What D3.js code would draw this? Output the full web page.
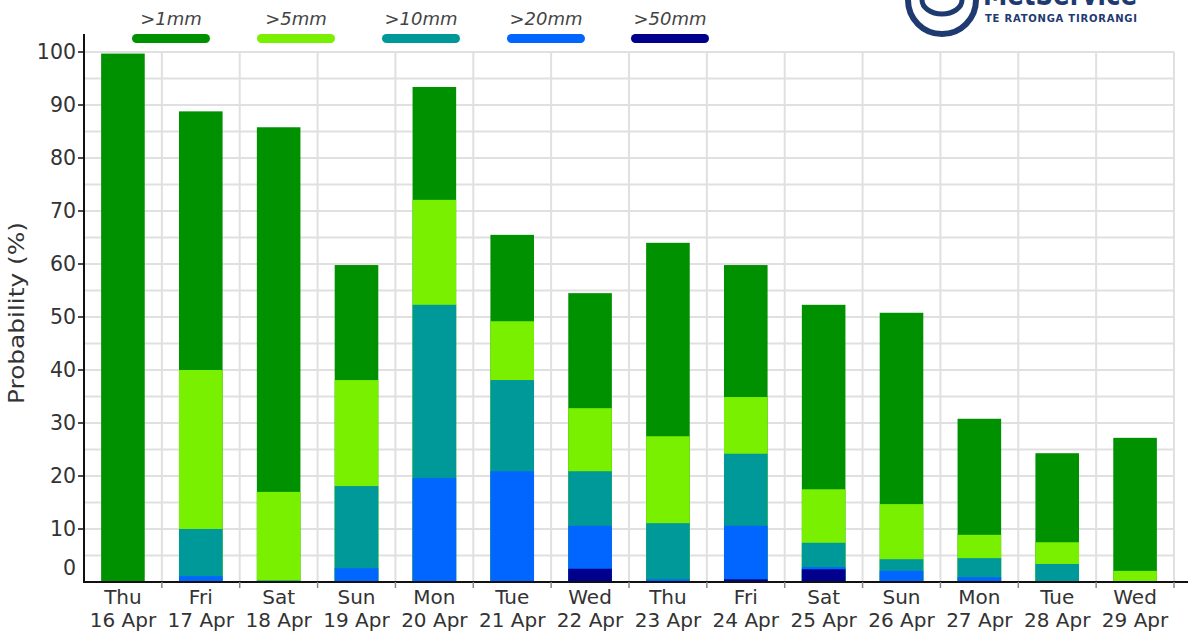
<!DOCTYPE html>
<html>
<head>
<meta charset="utf-8">
<script src="https://cdn.jsdelivr.net/npm/d3@7/dist/d3.min.js"></script>
<style>
html,body{margin:0;padding:0;background:#fff;}
svg{display:block;}
text{font-family:"DejaVu Sans",sans-serif;}
</style>
</head>
<body>
<svg id="chart" width="1188" height="635"></svg>
<script>
const days = ["Thu","Fri","Sat","Sun","Mon","Tue","Wed","Thu","Fri","Sat","Sun","Mon","Tue","Wed"];
const dates = ["16 Apr","17 Apr","18 Apr","19 Apr","20 Apr","21 Apr","22 Apr","23 Apr","24 Apr","25 Apr","26 Apr","27 Apr","28 Apr","29 Apr"];
const seriesNames = [">1mm", ">5mm", ">10mm", ">20mm", ">50mm"];
const p1mm  = [99.7, 88.8, 85.8, 59.8, 93.4, 65.5, 54.5, 64.0, 59.8, 52.3, 50.8, 30.8, 24.3, 27.2];
const p5mm  = [0, 40.0, 17.0, 38.1, 72.1, 49.2, 32.8, 27.5, 34.9, 17.5, 14.7, 8.9, 7.5, 2.1];
const p10mm = [0, 10.0, 0.3, 18.1, 52.3, 38.1, 20.9, 11.1, 24.2, 7.4, 4.3, 4.5, 3.4, 0];
const p20mm = [0, 1.1, 0, 2.6, 19.6, 20.9, 10.6, 0.5, 10.6, 2.8, 2.1, 0.9, 0, 0];
const p50mm = [0, 0, 0, 0, 0, 0, 2.5, 0, 0.5, 2.4, 0, 0, 0, 0];
const yTicks = [0, 10, 20, 30, 40, 50, 60, 70, 80, 90, 100];

const colors = ["#009100", "#78f000", "#009999", "#0066ff", "#00008c"];
const seriesValues = [p1mm, p5mm, p10mm, p20mm, p50mm];

const svg = d3.select("#chart");
const pLeft = 84, pRight = 1174, pTop = 52, pBottom = 582;

const x = d3.scaleBand().domain(d3.range(days.length)).range([pLeft, pRight]).paddingInner(0.44).paddingOuter(0.22);
const y = d3.scaleLinear().domain([0, 100]).range([pBottom, pTop]);
const step = x.step();

// horizontal gridlines every 5
const gridVals = d3.range(5, 101, 5);
svg.append("g").selectAll("line").data(gridVals).join("line")
  .attr("x1", pLeft).attr("x2", pRight)
  .attr("y1", d => y(d)).attr("y2", d => y(d))
  .attr("stroke", "#e0e0e0").attr("stroke-width", 2);

// vertical gridlines at category boundaries
const bounds = d3.range(1, days.length + 1).map(k => pLeft + k * step);
svg.append("g").selectAll("line").data(bounds).join("line")
  .attr("x1", d => d).attr("x2", d => d)
  .attr("y1", pTop).attr("y2", pBottom)
  .attr("stroke", "#e0e0e0").attr("stroke-width", 2);

// bars (overlapping, largest first)
seriesValues.forEach((vals, si) => {
  svg.append("g").selectAll("rect").data(vals).join("rect")
    .attr("x", (d, i) => x(i))
    .attr("width", x.bandwidth())
    .attr("y", d => y(d))
    .attr("height", d => y(0) - y(d))
    .attr("fill", colors[si]);
});

// x axis line and ticks
svg.append("line").attr("x1", pLeft).attr("x2", 1188).attr("y1", pBottom).attr("y2", pBottom)
  .attr("stroke", "#111").attr("stroke-width", 2);
svg.append("g").selectAll("line").data(bounds).join("line")
  .attr("x1", d => d).attr("x2", d => d)
  .attr("y1", pBottom).attr("y2", pBottom + 6)
  .attr("stroke", "#888").attr("stroke-width", 1.5);

// y axis line
svg.append("line").attr("x1", pLeft).attr("x2", pLeft).attr("y1", 34).attr("y2", pBottom + 1)
  .attr("stroke", "#111").attr("stroke-width", 2);

// y ticks
const yt = svg.append("g");
yt.selectAll("line").data(yTicks.filter(d => d > 0)).join("line")
  .attr("x1", pLeft - 6).attr("x2", pLeft)
  .attr("y1", d => y(d)).attr("y2", d => y(d))
  .attr("stroke", "#111").attr("stroke-width", 1.5);
yt.selectAll("text").data(yTicks).join("text")
  .attr("x", pLeft - 8)
  .attr("y", d => d === 0 ? y(d) - 14 : y(d))
  .attr("dy", "0.36em")
  .attr("text-anchor", "end")
  .attr("font-size", 20.5)
  .attr("fill", "#333")
  .text(d => d);

// x labels
const xl = svg.append("g");
xl.selectAll("text.day").data(days).join("text").attr("class", "day")
  .attr("x", (d, i) => x(i) + x.bandwidth() / 2)
  .attr("y", 604)
  .attr("text-anchor", "middle").attr("font-size", 20).attr("fill", "#333")
  .text(d => d);
xl.selectAll("text.date").data(dates).join("text").attr("class", "date")
  .attr("x", (d, i) => x(i) + x.bandwidth() / 2)
  .attr("y", 627)
  .attr("text-anchor", "middle").attr("font-size", 20).attr("fill", "#333")
  .text(d => d);

// y axis label
svg.append("text")
  .attr("transform", "translate(24,313) rotate(-90)")
  .attr("text-anchor", "middle").attr("font-size", 21).attr("fill", "#333")
  .attr("textLength", 182).attr("lengthAdjust", "spacingAndGlyphs")
  .text("Probability (%)");

// legend
const legX = [171, 296, 421, 546, 670];
const lg = svg.append("g");
seriesNames.forEach((name, i) => {
  lg.append("text").attr("x", legX[i]).attr("y", 25)
    .attr("text-anchor", "middle").attr("font-size", 18).attr("font-style", "italic")
    .attr("fill", "#444").text(name);
  lg.append("rect").attr("x", legX[i] - 39).attr("y", 34).attr("width", 78).attr("height", 9)
    .attr("rx", 4.5).attr("fill", colors[i]);
});

// logo (partially cut off, as in the source image)
const logo = svg.append("g");
logo.append("path").attr("d", "M908,0 A34,34 0 0 0 976,0").attr("fill", "none").attr("stroke", "#1e3a70").attr("stroke-width", 6);
logo.append("path").attr("d", "M922,0 A20,14 0 0 0 962,0").attr("fill", "none").attr("stroke", "#1e3a70").attr("stroke-width", 5);
logo.append("text").attr("x", 983).attr("y", 5).attr("font-size", 30).attr("font-weight", "bold")
  .attr("fill", "#1e3a70").attr("textLength", 154).attr("lengthAdjust", "spacingAndGlyphs").text("MetService");
logo.append("text").attr("x", 985).attr("y", 22).attr("font-size", 10).attr("font-weight", "bold")
  .attr("fill", "#1e3a70").attr("textLength", 152).attr("lengthAdjust", "spacing").text("TE RATONGA TIRORANGI");
</script>
</body>
</html>
